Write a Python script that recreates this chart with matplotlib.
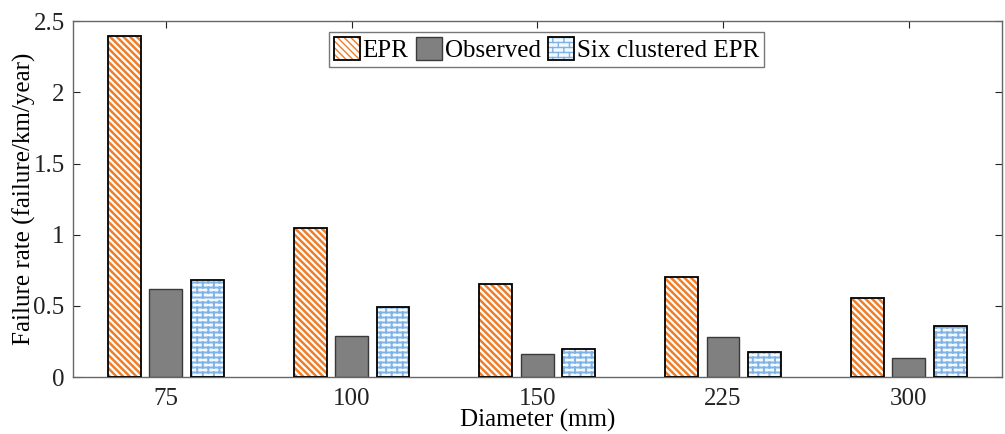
import warnings
import numpy as np
import matplotlib
matplotlib.use("Agg")
import matplotlib.pyplot as plt
import matplotlib.hatch as mhatch
from matplotlib.path import Path
from matplotlib.patches import Patch
from matplotlib.legend_handler import HandlerTuple

warnings.filterwarnings("ignore")

# ---- data ----
categories = ["75", "100", "150", "225", "300"]
epr = [2.40, 1.05, 0.655, 0.70, 0.555]
observed = [0.62, 0.29, 0.16, 0.28, 0.135]
six_clustered = [0.685, 0.495, 0.20, 0.18, 0.36]
series_names = ["EPR", "Observed", "Six clustered EPR"]
y_ticks = [0, 0.5, 1, 1.5, 2, 2.5]
y_tick_labels = ["0", "0.5", "1", "1.5", "2", "2.5"]


# ---- custom brick hatch ----
class BrickHatch(mhatch.HatchPatternBase):
    def __init__(self, hatch, density):
        n = hatch.count('b')
        self.rows = 20 if n else 0
        self.cols = 9
        self.num_vertices = (self.rows * 2 + self.rows * self.cols * 2) if n else 0

    def set_vertices_and_codes(self, vertices, codes):
        R, C = self.rows, self.cols
        h = 1.0 / R
        w = 1.0 / C
        i = 0
        for r in range(R):
            y = (r + 0.5) * h
            vertices[i] = (0.0, y)
            vertices[i + 1] = (1.0, y)
            codes[i] = Path.MOVETO
            codes[i + 1] = Path.LINETO
            i += 2
        for r in range(R):
            y0 = (r + 0.5) * h
            y1 = (r + 1.5) * h
            off = 0.25 * w if r % 2 == 0 else 0.75 * w
            for c in range(C):
                x = off + c * w
                vertices[i] = (x, y0)
                vertices[i + 1] = (x, y1)
                codes[i] = Path.MOVETO
                codes[i + 1] = Path.LINETO
                i += 2


if BrickHatch not in mhatch._hatch_types:
    mhatch._hatch_types.append(BrickHatch)

plt.rcParams['font.family'] = ['Liberation Serif', 'DejaVu Serif']

ORANGE = '#F07D28'
BLUE = '#7FB3E6'
GRAY = '#808080'

fig = plt.figure(figsize=(10.05, 4.34), dpi=100)
ax = fig.add_axes([0.0726, 0.131, 0.924, 0.820])

x = np.arange(1, len(categories) + 1)
w = 0.177
off = 0.223


def hatched_bars(xpos, vals, color, hatch, hlw, face='white'):
    with plt.rc_context({'hatch.linewidth': hlw}):
        bars = ax.bar(xpos, vals, w, color=face, edgecolor=color,
                      hatch=hatch, linewidth=0, zorder=2)
    for b in bars:
        if hasattr(b, 'set_hatch_linewidth'):
            b.set_hatch_linewidth(hlw)
    ax.bar(xpos, vals, w, fill=False, edgecolor='black', linewidth=1.3, zorder=3)
    with plt.rc_context({'hatch.linewidth': hlw}):
        hp = Patch(facecolor=face, edgecolor=color, hatch=hatch, linewidth=0)
    if hasattr(hp, 'set_hatch_linewidth'):
        hp.set_hatch_linewidth(hlw)
    bp = Patch(fill=False, edgecolor='black', linewidth=1.3)
    return (hp, bp)


h_epr = hatched_bars(x - off, epr, ORANGE, '\\' * 5, 1.8)
ax.bar(x, observed, w, color=GRAY, edgecolor='#3a3a3a', linewidth=1.0, zorder=2)
h_obs = Patch(facecolor=GRAY, edgecolor='#3a3a3a', linewidth=1.0)
h_six = hatched_bars(x + off, six_clustered, BLUE, 'b', 1.4, face='#F4F9FE')

ax.set_xlim(0.5, 5.5)
ax.set_ylim(0, 2.5)
ax.set_xticks(x)
ax.set_xticklabels(categories)
ax.set_yticks(y_ticks)
ax.set_yticklabels(y_tick_labels)
ax.tick_params(direction='in', length=5, width=0.8, top=True, right=True,
               labelsize=18, colors='#222222', pad=6)
ax.tick_params(axis='x', pad=8)
for s in ax.spines.values():
    s.set_color('#666666')
    s.set_linewidth(1.0)

ax.set_xlabel("Diameter (mm)", fontsize=18, labelpad=-1)
ax.set_ylabel("Failure rate (failure/km/year)", fontsize=18, labelpad=-2)

leg = ax.legend([h_epr, h_obs, h_six], series_names, loc='upper center',
                bbox_to_anchor=(0.51, 0.985), ncol=3, fontsize=18,
                frameon=True, fancybox=False, edgecolor='#555555',
                handlelength=1.05, handleheight=1.05, handletextpad=0.1,
                columnspacing=0.3, borderpad=0.2, borderaxespad=0.2,
                handler_map={tuple: HandlerTuple(ndivide=1)})
leg.get_frame().set_linewidth(1.0)

fig.savefig("out.png", dpi=100)
